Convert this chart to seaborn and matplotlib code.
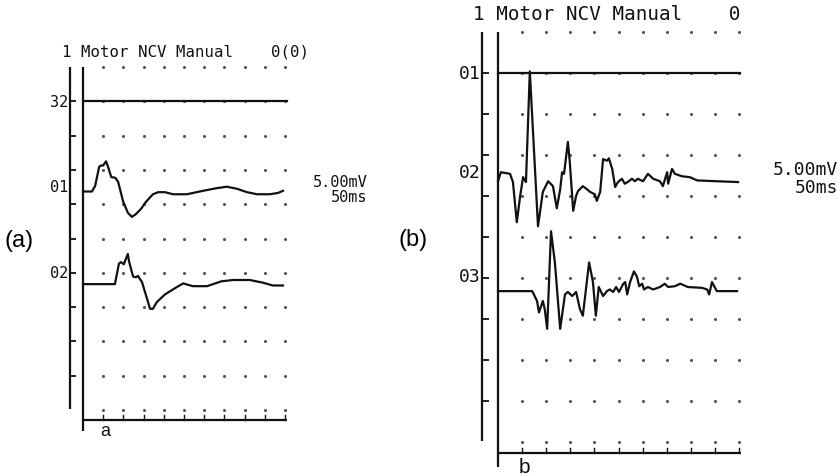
import numpy as np
import pandas as pd
import matplotlib
matplotlib.use("Agg")
import matplotlib.pyplot as plt
import seaborn as sns

# ---------------- data ----------------
title_a = "1 Motor NCV Manual    0(0)"
title_b = "1 Motor NCV Manual    0"
labels_a = ["32", "01", "02"]
labels_b = ["01", "02", "03"]
gain_text = "5.00mV"
sweep_text = "50ms"
gain_mv = 5.0      # mV per division
sweep_ms = 50.0    # full sweep

# panel (a) traces: time (ms) and amplitude (mV)
a32_t = [0, 50.5]
a32_mv = [0.0, 0.0]
a01_t = [0, 2.2, 3.0, 4.0, 4.5, 5.0, 5.7, 6.2, 7.0, 8.0, 8.7, 9.9, 11.1, 12.1,
         13.1, 14.4, 15.6, 17.3, 18.6, 20.3, 22.3, 25.7, 29.7, 33.2, 35.6,
         38.1, 40.6, 43.1, 46.3, 48.3, 49.5]
a01_mv = [0, 0, 0.8, 3.6, 3.8, 3.8, 4.4, 3.6, 2.1, 2.0, 1.4, -1.4, -3.1, -3.7,
          -3.3, -2.5, -1.5, -0.4, -0.1, -0.1, -0.4, -0.4, 0.1, 0.5, 0.7,
          0.4, -0.1, -0.4, -0.4, -0.2, 0.1]
a02_t = [0, 7.9, 8.9, 9.4, 10.1, 11.1, 11.4, 12.4, 13.1, 13.6, 14.6, 16.6, 17.3,
         18.3, 20.3, 23.3, 24.8, 27.2, 30.7, 34.2, 37.1, 41.3, 44.6, 47.0, 49.5]
a02_mv = [0, 0, 3.0, 3.2, 2.9, 4.4, 3.3, 1.1, 1.0, 1.2, 0.3, -3.6, -3.6,
          -2.6, -1.5, -0.4, 0.1, -0.3, -0.3, 0.4, 0.6, 0.6, 0.2, -0.2, -0.2]

# panel (b) traces
b01_t = [0, 50.3]
b01_mv = [0.0, 0.0]
b02_t = [0, 0.6, 2.5, 3.1, 3.9, 4.6, 5.2, 5.8, 6.6, 8.3, 9.3, 10.4, 11.4, 12.2,
         12.9, 13.3, 13.7, 14.5, 14.9, 15.6, 16.2, 16.6, 17.6, 18.5, 19.1,
         20.1, 20.5, 21.2, 21.8, 22.6, 23.0, 23.7, 24.3, 24.9, 25.7, 26.3,
         26.9, 27.8, 28.4, 29.0, 30.1, 31.1, 32.2, 33.6, 34.2, 35.1, 35.3,
         36.1, 36.7, 38.2, 39.8, 41.3, 45.4, 49.8]
b02_mv = [0.1, 1.2, 1.0, 0.0, -4.9, -1.7, 0.6, 0.0, 13.5, -5.4, -1.2, 0.1, -0.5,
          -3.2, -0.9, 1.2, 1.0, 4.9, 2.4, -3.5, -1.7, -1.1, -0.5, -0.9, -1.2,
          -1.5, -2.3, -1.2, 2.8, 2.6, 2.9, 1.6, -0.6, 0.0, 0.4, -0.2,
          0.0, 0.4, 0.1, 0.4, 0.1, 1.0, 0.4, 0.1, -0.5, 1.2, -0.2,
          1.6, 1.0, 0.7, 0.6, 0.2, 0.1, 0.0]
b03_t = [0, 7.1, 8.1, 8.5, 9.3, 9.7, 10.2, 11.0, 11.8, 12.9, 13.9, 14.5, 15.4,
         16.2, 17.0, 17.6, 18.9, 19.7, 20.3, 20.9, 21.8, 22.6, 23.2, 23.9,
         24.5, 25.1, 26.0, 26.4, 26.8, 27.4, 28.2, 28.8, 29.3, 29.9, 30.3,
         31.1, 32.2, 33.6, 34.6, 35.3, 36.7, 37.8, 39.4, 42.3, 43.4, 43.8,
         44.4, 45.4, 46.5, 49.6]
b03_mv = [0, 0, -1.2, -2.6, -1.2, -2.2, -4.6, 7.3, 3.5, -4.6, -0.4, -0.1, -0.6,
          -0.1, -2.2, -3.0, 3.5, 1.1, -3.0, 0.5, -0.6, 0.0, 0.2, -0.1,
          0.5, -0.1, 0.9, 1.1, -0.4, 1.1, 2.4, 1.8, 0.6, 0.9, 0.2,
          0.5, 0.2, 0.5, 0.9, 0.5, 0.6, 0.9, 0.5, 0.4, 0.2, -0.4,
          1.1, 0.0, 0.0, 0.0]

# ---------------- layout ----------------
W, H = 840, 477
fig = plt.figure(figsize=(W / 100, H / 100), dpi=100)
fig.patch.set_facecolor("white")

MONO = "DejaVu Sans Mono"
SANS = "Liberation Sans"
INK = "#111111"


def px_axes(x0, y0, x1, y1):
    return fig.add_axes([x0 / W, 1 - y1 / H, (x1 - x0) / W, (y1 - y0) / H])


def draw_panel(ax, traces, baselines, labels, label_y, title, fs, tfs, letter,
               letter_fs):
    ax.set_xlim(0, sweep_ms)
    ax.set_ylim(10, 0)
    ax.axis("off")
    # grid dots
    gx, gy = np.meshgrid(np.arange(5, sweep_ms + 1, 5), np.arange(0, 11))
    sns.scatterplot(x=gx.ravel(), y=gy.ravel(), ax=ax, s=5, color="#555555",
                    linewidth=0, legend=False, clip_on=False, zorder=1)
    # frame lines
    xo = -3.25
    ax.plot([xo, xo], [0, 9.97], color=INK, lw=1.6, clip_on=False,
            solid_capstyle="butt")
    ax.plot([0, 0], [0, 10.62], color=INK, lw=1.6, clip_on=False,
            solid_capstyle="butt")
    ax.plot([0, sweep_ms + 0.4], [10.28, 10.28], color=INK, lw=1.6,
            clip_on=False, solid_capstyle="butt")
    for r in range(1, 10):
        ax.plot([xo, xo + 1.4], [r, r], color=INK, lw=1.3, clip_on=False,
                solid_capstyle="butt")
    for c in np.arange(5, sweep_ms + 1, 5):
        ax.plot([c, c], [10.28, 10.15], color=INK, lw=1.0, clip_on=False)
    # traces
    for (t, mv), base in zip(traces, baselines):
        df = pd.DataFrame({"t": t, "y": base - np.asarray(mv) / gain_mv})
        sns.lineplot(data=df, x="t", y="y", sort=False, estimator=None,
                     color=INK, lw=1.6, ax=ax, clip_on=False, zorder=3)
    ax.set_xlabel("")
    ax.set_ylabel("")
    # texts
    ax.text(-5.2, -0.46, title, family=MONO, fontsize=tfs, ha="left",
            va="center", color=INK)
    for lab, ly in zip(labels, label_y):
        ax.text(-3.7, ly, lab, family=MONO, fontsize=fs, ha="right",
                va="center", color=INK)
    ax.text(70.5, 3.33, gain_text, family=MONO, fontsize=fs, ha="right",
            va="center", color=INK)
    ax.text(70.5, 3.78, sweep_text, family=MONO, fontsize=fs, ha="right",
            va="center", color=INK)
    ax.text(5.4, 10.6, letter, family=SANS, fontsize=letter_fs, ha="center",
            va="center", color=INK)


ax_a = px_axes(83, 68, 285, 411)
draw_panel(ax_a,
           [(a32_t, a32_mv), (a01_t, a01_mv), (a02_t, a02_mv)],
           [1.0, 3.63, 6.33], labels_a, [1.0, 3.47, 5.98],
           title_a, 11, 11.3, "a", 13)

ax_b = px_axes(498, 33, 739, 443)
draw_panel(ax_b,
           [(b01_t, b01_mv), (b02_t, b02_mv), (b03_t, b03_mv)],
           [1.0, 3.66, 6.32], labels_b, [1.0, 3.41, 5.95],
           title_b, 13, 13.9, "b", 15)

fig.text(5 / W, 1 - 241 / H, "(a)", family=SANS, fontsize=17, ha="left",
         va="center", color="black")
fig.text(399 / W, 1 - 240 / H, "(b)", family=SANS, fontsize=17, ha="left",
         va="center", color="black")

fig.savefig("out.png", dpi=100, facecolor="white")
